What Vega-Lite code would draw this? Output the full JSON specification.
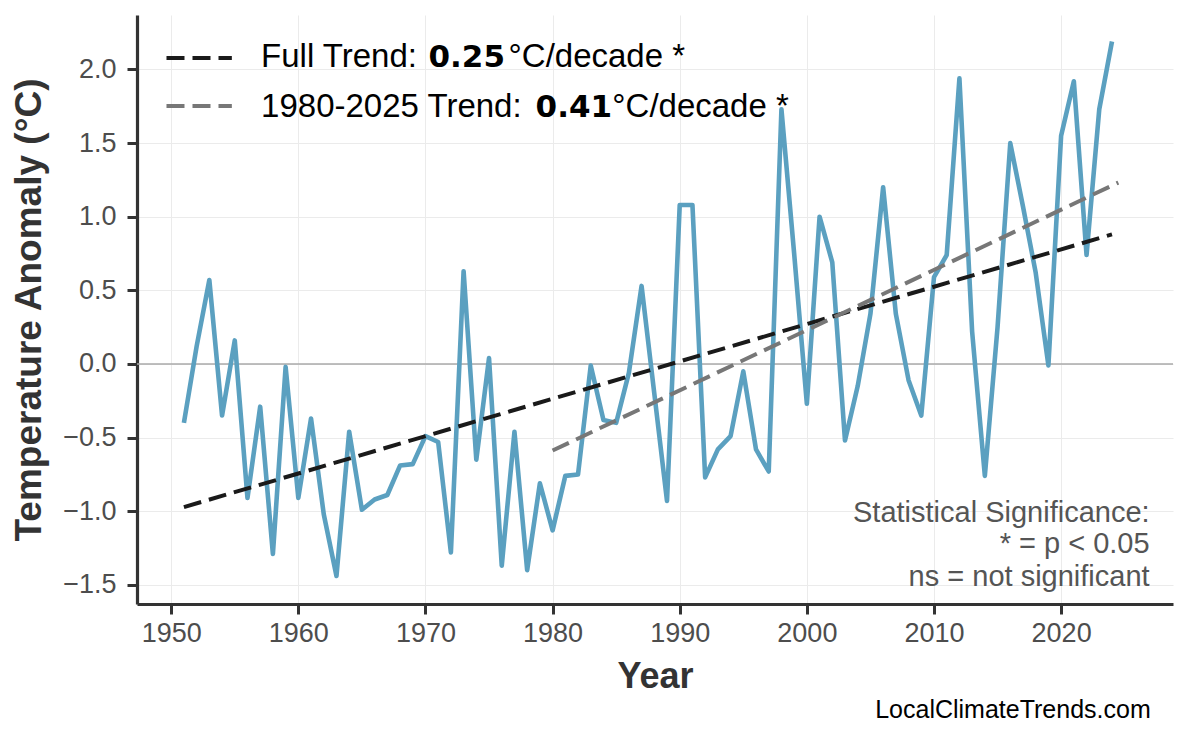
{
  "$schema": "https://vega.github.io/schema/vega-lite/v6.json",
  "width": 1036,
  "height": 589,
  "autosize": {"type": "none"},
  "padding": {"left": 137, "top": 15, "right": 13, "bottom": 133},
  "background": "white",
  "title": {
    "text": "LocalClimateTrends.com",
    "orient": "bottom",
    "anchor": "end",
    "font": "Liberation Sans",
    "fontSize": 25,
    "fontWeight": "normal",
    "color": "#000000",
    "dx": -23,
    "offset": 4
  },
  "config": {
    "view": {"stroke": null},
    "axis": {
      "domainColor": "#333333",
      "domainWidth": 3.2,
      "tickColor": "#333333",
      "tickWidth": 3,
      "tickSize": 10,
      "labelFont": "Liberation Sans",
      "labelFontSize": 27,
      "labelColor": "#4D4D4D",
      "labelFlush": false,
      "labelOverlap": false,
      "titleFont": "Liberation Sans",
      "titleFontWeight": "bold",
      "titleColor": "#333333",
      "gridColor": "#EBEBEB",
      "gridWidth": 1
    }
  },
  "datasets": {
    "anomalies": [
      {"year": 1951, "anomaly": -0.40}, {"year": 1952, "anomaly": 0.12}, {"year": 1953, "anomaly": 0.57},
      {"year": 1954, "anomaly": -0.35}, {"year": 1955, "anomaly": 0.16}, {"year": 1956, "anomaly": -0.91},
      {"year": 1957, "anomaly": -0.29}, {"year": 1958, "anomaly": -1.29}, {"year": 1959, "anomaly": -0.02},
      {"year": 1960, "anomaly": -0.91}, {"year": 1961, "anomaly": -0.37}, {"year": 1962, "anomaly": -1.02},
      {"year": 1963, "anomaly": -1.44}, {"year": 1964, "anomaly": -0.46}, {"year": 1965, "anomaly": -0.99},
      {"year": 1966, "anomaly": -0.92}, {"year": 1967, "anomaly": -0.89}, {"year": 1968, "anomaly": -0.69},
      {"year": 1969, "anomaly": -0.68}, {"year": 1970, "anomaly": -0.49}, {"year": 1971, "anomaly": -0.53},
      {"year": 1972, "anomaly": -1.28}, {"year": 1973, "anomaly": 0.63}, {"year": 1974, "anomaly": -0.65},
      {"year": 1975, "anomaly": 0.04}, {"year": 1976, "anomaly": -1.37}, {"year": 1977, "anomaly": -0.46},
      {"year": 1978, "anomaly": -1.40}, {"year": 1979, "anomaly": -0.81}, {"year": 1980, "anomaly": -1.13},
      {"year": 1981, "anomaly": -0.76}, {"year": 1982, "anomaly": -0.75}, {"year": 1983, "anomaly": -0.01},
      {"year": 1984, "anomaly": -0.38}, {"year": 1985, "anomaly": -0.40}, {"year": 1986, "anomaly": -0.06},
      {"year": 1987, "anomaly": 0.53}, {"year": 1988, "anomaly": -0.20}, {"year": 1989, "anomaly": -0.93},
      {"year": 1990, "anomaly": 1.08}, {"year": 1991, "anomaly": 1.08}, {"year": 1992, "anomaly": -0.77},
      {"year": 1993, "anomaly": -0.58}, {"year": 1994, "anomaly": -0.49}, {"year": 1995, "anomaly": -0.05},
      {"year": 1996, "anomaly": -0.58}, {"year": 1997, "anomaly": -0.73}, {"year": 1998, "anomaly": 1.73},
      {"year": 1999, "anomaly": 0.75}, {"year": 2000, "anomaly": -0.27}, {"year": 2001, "anomaly": 1.00},
      {"year": 2002, "anomaly": 0.69}, {"year": 2003, "anomaly": -0.52}, {"year": 2004, "anomaly": -0.15},
      {"year": 2005, "anomaly": 0.34}, {"year": 2006, "anomaly": 1.20}, {"year": 2007, "anomaly": 0.34},
      {"year": 2008, "anomaly": -0.11}, {"year": 2009, "anomaly": -0.35}, {"year": 2010, "anomaly": 0.59},
      {"year": 2011, "anomaly": 0.74}, {"year": 2012, "anomaly": 1.94}, {"year": 2013, "anomaly": 0.22},
      {"year": 2014, "anomaly": -0.76}, {"year": 2015, "anomaly": 0.25}, {"year": 2016, "anomaly": 1.50},
      {"year": 2017, "anomaly": 1.07}, {"year": 2018, "anomaly": 0.62}, {"year": 2019, "anomaly": -0.01},
      {"year": 2020, "anomaly": 1.55}, {"year": 2021, "anomaly": 1.92}, {"year": 2022, "anomaly": 0.74},
      {"year": 2023, "anomaly": 1.73}, {"year": 2024, "anomaly": 2.19}
    ],
    "trends": [
      {"series": "full", "year": 1951, "anomaly": -0.972},
      {"series": "full", "year": 2024, "anomaly": 0.880},
      {"series": "recent", "year": 1980, "anomaly": -0.588},
      {"series": "recent", "year": 2024.5, "anomaly": 1.232}
    ],
    "key": [
      {"series": "full", "year": 1949.63, "anomaly": 2.078},
      {"series": "full", "year": 1954.77, "anomaly": 2.078},
      {"series": "recent", "year": 1949.63, "anomaly": 1.752},
      {"series": "recent", "year": 1954.77, "anomaly": 1.752}
    ],
    "keytext": [
      {"year": 1957.07, "anomaly": 2.017, "label": "Full Trend:", "part": "plain"},
      {"year": 1970.24, "anomaly": 2.017, "label": "0.25", "part": "bold"},
      {"year": 1976.54, "anomaly": 2.017, "label": "°C/decade *", "part": "plain"},
      {"year": 1957.07, "anomaly": 1.678, "label": "1980-2025 Trend:", "part": "plain"},
      {"year": 1978.66, "anomaly": 1.678, "label": "0.41", "part": "bold"},
      {"year": 1984.70, "anomaly": 1.678, "label": "°C/decade *", "part": "plain"}
    ],
    "notes": [
      {"year": 2026.96, "anomaly": -1.070, "label": "Statistical Significance:"},
      {"year": 2026.96, "anomaly": -1.284, "label": "* = p < 0.05"},
      {"year": 2026.96, "anomaly": -1.511, "label": "ns = not significant"}
    ]
  },
  "layer": [
    {
      "data": {"name": "anomalies"},
      "mark": {"type": "line", "color": "#5BA0C0", "strokeWidth": 4.5, "strokeJoin": "round", "opacity": 0},
      "encoding": {
        "x": {
          "field": "year", "type": "quantitative",
          "scale": {"domain": [1947.31, 2028.8], "nice": false, "zero": false},
          "axis": {"title": "Year", "titleFontSize": 36, "values": [1950, 1960, 1970, 1980, 1990, 2000, 2010, 2020], "format": "d", "grid": true, "labelPadding": 6, "titlePadding": 13}
        },
        "y": {
          "field": "anomaly", "type": "quantitative",
          "scale": {"domain": [-1.63, 2.37], "nice": false, "zero": false},
          "axis": {"title": "Temperature Anomaly (°C)", "titleFontSize": 37, "values": [-1.5, -1, -0.5, 0, 0.5, 1, 1.5, 2], "format": ".1f", "grid": true, "labelPadding": 11, "titlePadding": 14}
        }
      }
    },
    {
      "data": {"values": [{"anomaly": 0}]},
      "mark": {"type": "rule", "color": "#AAAAAA", "strokeWidth": 1.5},
      "encoding": {"y": {"field": "anomaly", "type": "quantitative"}}
    },
    {
      "data": {"name": "anomalies"},
      "mark": {"type": "line", "color": "#5BA0C0", "strokeWidth": 4.6, "strokeJoin": "round"},
      "encoding": {
        "x": {"field": "year", "type": "quantitative"},
        "y": {"field": "anomaly", "type": "quantitative"}
      }
    },
    {
      "data": {"name": "trends"},
      "mark": {"type": "line", "strokeWidth": 4, "strokeDash": [18, 8], "strokeCap": "butt"},
      "encoding": {
        "x": {"field": "year", "type": "quantitative"},
        "y": {"field": "anomaly", "type": "quantitative"},
        "color": {"field": "series", "type": "nominal", "scale": {"domain": ["full", "recent"], "range": ["#1A1A1A", "#777777"]}, "legend": null}
      }
    },
    {
      "data": {"name": "key"},
      "mark": {"type": "line", "strokeWidth": 4, "strokeDash": [18, 8], "strokeCap": "butt"},
      "encoding": {
        "x": {"field": "year", "type": "quantitative"},
        "y": {"field": "anomaly", "type": "quantitative"},
        "color": {"field": "series", "type": "nominal", "legend": null}
      }
    },
    {
      "data": {"name": "keytext"},
      "transform": [{"filter": "datum.part == 'plain'"}],
      "mark": {"type": "text", "font": "Liberation Sans", "fontSize": 33, "color": "#000000", "align": "left", "baseline": "alphabetic"},
      "encoding": {
        "x": {"field": "year", "type": "quantitative"},
        "y": {"field": "anomaly", "type": "quantitative"},
        "text": {"field": "label"}
      }
    },
    {
      "data": {"name": "keytext"},
      "transform": [{"filter": "datum.part == 'bold'"}],
      "mark": {"type": "text", "font": "DejaVu Sans", "fontWeight": "bold", "fontSize": 31, "color": "#000000", "align": "left", "baseline": "alphabetic"},
      "encoding": {
        "x": {"field": "year", "type": "quantitative"},
        "y": {"field": "anomaly", "type": "quantitative"},
        "text": {"field": "label"}
      }
    },
    {
      "data": {"name": "notes"},
      "mark": {"type": "text", "font": "Liberation Sans", "fontSize": 29, "color": "#555555", "align": "right", "baseline": "alphabetic"},
      "encoding": {
        "x": {"field": "year", "type": "quantitative"},
        "y": {"field": "anomaly", "type": "quantitative"},
        "text": {"field": "label"}
      }
    }
  ]
}
